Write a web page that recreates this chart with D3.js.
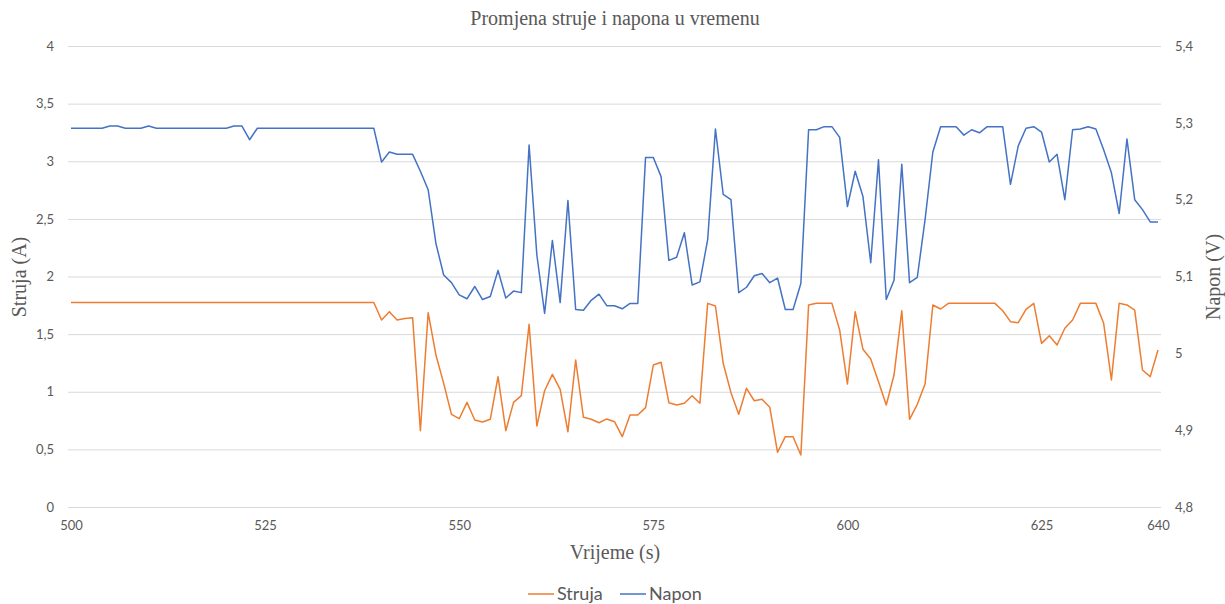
<!DOCTYPE html>
<meta charset="utf-8">
<script src="https://d3js.org/d3.v7.min.js"></script>
<style>
  body { margin: 0; background: #fff; }
</style>

<!-- Create a div where the graph will take place -->
<div id="my_dataviz"></div>

<script>

  // time in seconds (x axis)
  var vrijeme = [
    500, 501, 502, 503, 504, 505, 506, 507, 508, 509, 510, 511, 512, 513, 514, 515, 516, 517, 518, 519,
    520, 521, 522, 523, 524, 525, 526, 527, 528, 529, 530, 531, 532, 533, 534, 535, 536, 537, 538, 539,
    540, 541, 542, 543, 544, 545, 546, 547, 548, 549, 550, 551, 552, 553, 554, 555, 556, 557, 558, 559,
    560, 561, 562, 563, 564, 565, 566, 567, 568, 569, 570, 571, 572, 573, 574, 575, 576, 577, 578, 579,
    580, 581, 582, 583, 584, 585, 586, 587, 588, 589, 590, 591, 592, 593, 594, 595, 596, 597, 598, 599,
    600, 601, 602, 603, 604, 605, 606, 607, 608, 609, 610, 611, 612, 613, 614, 615, 616, 617, 618, 619,
    620, 621, 622, 623, 624, 625, 626, 627, 628, 629, 630, 631, 632, 633, 634, 635, 636, 637, 638, 639,
    640
  ];

  // current (A), left axis
  var struja = [
    1.775, 1.775, 1.775, 1.775, 1.775, 1.775, 1.775, 1.775, 1.775, 1.775,
    1.775, 1.775, 1.775, 1.775, 1.775, 1.775, 1.775, 1.775, 1.775, 1.775,
    1.775, 1.775, 1.775, 1.775, 1.775, 1.775, 1.775, 1.775, 1.775, 1.775,
    1.775, 1.775, 1.775, 1.775, 1.775, 1.775, 1.775, 1.775, 1.775, 1.775,
    1.623, 1.695, 1.623, 1.636, 1.643, 0.662, 1.686, 1.319, 1.073, 0.804,
    0.766, 0.908, 0.755, 0.738, 0.761, 1.131, 0.662, 0.908, 0.966, 1.585,
    0.703, 1.009, 1.151, 1.021, 0.653, 1.275, 0.778, 0.761, 0.731, 0.764,
    0.740, 0.610, 0.798, 0.798, 0.862, 1.232, 1.256, 0.905, 0.885, 0.900,
    0.966, 0.900, 1.767, 1.744, 1.247, 0.992, 0.804, 1.030, 0.922, 0.935,
    0.865, 0.475, 0.610, 0.610, 0.451, 1.753, 1.767, 1.767, 1.767, 1.536,
    1.067, 1.695, 1.368, 1.284, 1.087, 0.885, 1.145, 1.703, 0.761, 0.891,
    1.067, 1.753, 1.718, 1.767, 1.767, 1.767, 1.767, 1.767, 1.767, 1.767,
    1.703, 1.608, 1.599, 1.715, 1.767, 1.420, 1.486, 1.406, 1.551, 1.623,
    1.767, 1.767, 1.767, 1.594, 1.102, 1.767, 1.753, 1.709, 1.189, 1.131,
    1.362
  ];

  // voltage (V), right axis
  var napon = [
    5.293, 5.293, 5.293, 5.293, 5.293, 5.296, 5.296, 5.293, 5.293, 5.293,
    5.296, 5.293, 5.293, 5.293, 5.293, 5.293, 5.293, 5.293, 5.293, 5.293,
    5.293, 5.296, 5.296, 5.278, 5.293, 5.293, 5.293, 5.293, 5.293, 5.293,
    5.293, 5.293, 5.293, 5.293, 5.293, 5.293, 5.293, 5.293, 5.293, 5.293,
    5.249, 5.262, 5.259, 5.259, 5.259, 5.237, 5.213, 5.143, 5.102, 5.092,
    5.076, 5.071, 5.087, 5.070, 5.074, 5.108, 5.072, 5.081, 5.079, 5.271,
    5.128, 5.052, 5.147, 5.066, 5.199, 5.057, 5.056, 5.069, 5.077, 5.062,
    5.062, 5.058, 5.065, 5.065, 5.255, 5.255, 5.230, 5.121, 5.125, 5.157,
    5.089, 5.093, 5.148, 5.292, 5.207, 5.200, 5.079, 5.086, 5.101, 5.104,
    5.092, 5.098, 5.057, 5.057, 5.091, 5.291, 5.291, 5.295, 5.295, 5.281,
    5.191, 5.237, 5.204, 5.118, 5.252, 5.070, 5.095, 5.246, 5.092, 5.099,
    5.174, 5.262, 5.295, 5.295, 5.295, 5.284, 5.291, 5.287, 5.295, 5.295,
    5.295, 5.220, 5.270, 5.293, 5.295, 5.288, 5.249, 5.259, 5.200, 5.291,
    5.292, 5.295, 5.292, 5.265, 5.235, 5.182, 5.279, 5.200, 5.187, 5.171,
    5.171
  ];

  // tick labels
  var xTicks = [500, 525, 550, 575, 600, 625, 640];
  var strujaTicks = [0, 0.5, 1, 1.5, 2, 2.5, 3, 3.5, 4];
  var naponTicks = [4.8, 4.9, 5, 5.1, 5.2, 5.3, 5.4];

  var W = 1225, H = 604;
  var plot = { left: 68, right: 1161, top: 46, bottom: 507 };
  var textColor = "#595959";
  var tickFont = "Lato, 'Open Sans', sans-serif";
  var serif = "'Liberation Serif', 'Times New Roman', serif";

  var data = vrijeme.map(function (t, i) {
    return { t: t, a: struja[i], v: napon[i] };
  });

  var svg = d3.select("#my_dataviz")
    .append("svg")
    .attr("width", W)
    .attr("height", H);

  var x = d3.scaleLinear().domain([500, 640]).range([71, 1158]),
    yA = d3.scaleLinear().domain([0, 4]).range([plot.bottom, plot.top]),
    yV = d3.scaleLinear().domain([4.8, 5.4]).range([plot.bottom, plot.top]);

  var comma = function (d) { return String(d).replace(".", ","); };

  // left axis + gridlines
  var gLeft = svg.append("g")
    .attr("transform", "translate(" + plot.left + ",0)")
    .call(d3.axisLeft(yA).tickValues(strujaTicks).tickFormat(comma)
      .tickSize(-(plot.right - plot.left)).tickPadding(14));
  gLeft.select(".domain").remove();
  gLeft.selectAll("line").attr("stroke", "#d9d9d9").attr("stroke-width", 1);
  gLeft.selectAll("text").attr("fill", textColor)
    .style("font-family", tickFont).style("font-size", "13px");

  // right axis
  var gRight = svg.append("g")
    .attr("transform", "translate(" + plot.right + ",0)")
    .call(d3.axisRight(yV).tickValues(naponTicks).tickFormat(comma)
      .tickSize(0).tickPadding(14));
  gRight.select(".domain").remove();
  gRight.selectAll("text").attr("fill", textColor)
    .style("font-family", tickFont).style("font-size", "13px");

  // bottom axis
  var gBottom = svg.append("g")
    .attr("transform", "translate(0," + plot.bottom + ")")
    .call(d3.axisBottom(x).tickValues(xTicks).tickFormat(d3.format("d"))
      .tickSize(0).tickPadding(14));
  gBottom.select(".domain").remove();
  gBottom.selectAll("text").attr("fill", textColor)
    .style("font-family", tickFont).style("font-size", "13px");

  // lines
  var lineA = d3.line()
    .x(function (d) { return x(d.t); })
    .y(function (d) { return yA(d.a); });
  var lineV = d3.line()
    .x(function (d) { return x(d.t); })
    .y(function (d) { return yV(d.v); });

  svg.append("path")
    .datum(data)
    .attr("d", lineA)
    .attr("fill", "none")
    .attr("stroke", "#ED7D31")
    .attr("stroke-width", 1.5)
    .attr("stroke-linejoin", "round");

  svg.append("path")
    .datum(data)
    .attr("d", lineV)
    .attr("fill", "none")
    .attr("stroke", "#4472C4")
    .attr("stroke-width", 1.5)
    .attr("stroke-linejoin", "round");

  // titles
  svg.append("text")
    .attr("x", 615).attr("y", 18).attr("dy", "0.35em")
    .attr("text-anchor", "middle")
    .style("font-family", serif).style("font-size", "20px")
    .attr("fill", textColor)
    .text("Promjena struje i napona u vremenu");

  svg.append("text")
    .attr("x", 615).attr("y", 552).attr("dy", "0.35em")
    .attr("text-anchor", "middle")
    .style("font-family", serif).style("font-size", "20px")
    .attr("fill", textColor)
    .text("Vrijeme (s)");

  svg.append("text")
    .attr("transform", "translate(19,277) rotate(-90)")
    .attr("dy", "0.35em")
    .attr("text-anchor", "middle")
    .style("font-family", serif).style("font-size", "20px")
    .attr("fill", textColor)
    .text("Struja (A)");

  svg.append("text")
    .attr("transform", "translate(1213,277) rotate(-90)")
    .attr("dy", "0.35em")
    .attr("text-anchor", "middle")
    .style("font-family", serif).style("font-size", "20px")
    .attr("fill", textColor)
    .text("Napon (V)");

  // legend
  var legend = [
    { name: "Struja", color: "#ED7D31", x: 528 },
    { name: "Napon", color: "#4472C4", x: 620 }
  ];
  var lg = svg.append("g").selectAll("g")
    .data(legend)
    .enter()
    .append("g")
    .attr("transform", function (d) { return "translate(" + d.x + ",594)"; });
  lg.append("line")
    .attr("x1", 0).attr("x2", 26)
    .attr("stroke", function (d) { return d.color; })
    .attr("stroke-width", 1.5);
  lg.append("text")
    .attr("x", 29).attr("dy", "0.35em")
    .style("font-family", tickFont).style("font-size", "18px")
    .attr("fill", textColor)
    .text(function (d) { return d.name; });

</script>
